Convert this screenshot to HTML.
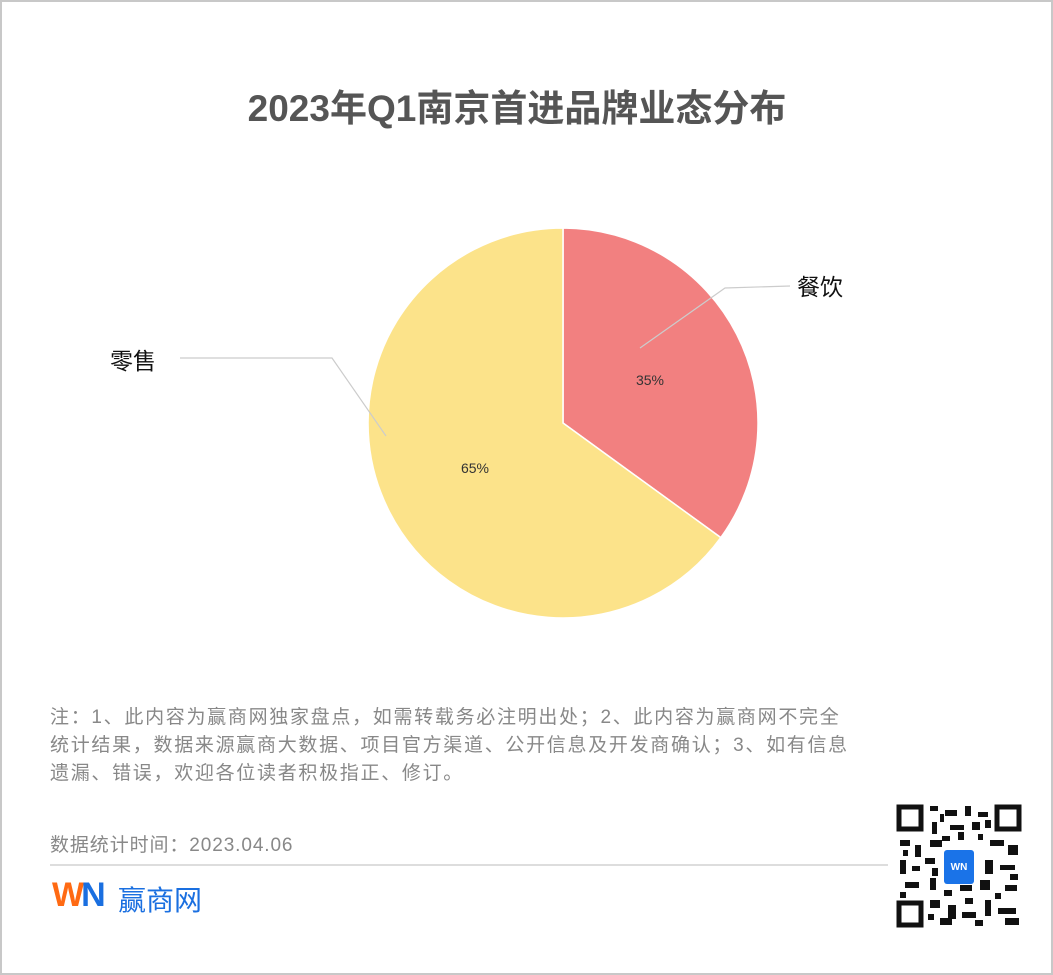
<!DOCTYPE html>
<html><head><meta charset="utf-8"><style>
body{margin:0;width:1053px;height:975px;background:#fff;overflow:hidden;font-family:"Liberation Sans","Noto Sans CJK SC",sans-serif;}
.frame{position:absolute;left:0;top:0;width:1049px;height:971px;border:2px solid #c8c8c8;}
.t{position:absolute;white-space:nowrap;}
</style></head><body>
<div class="frame"></div>
<div class="t" style="left:0;width:1034px;text-align:center;top:78px;font-size:37px;font-weight:bold;color:#555;">2023年Q1南京首进品牌业态分布</div>
<svg style="position:absolute;left:0;top:0" width="1053" height="975">
<path d="M563,423 L563,228 A195,195 0 0 1 720.8,537.6 Z" fill="#f28080" stroke="#fff" stroke-width="1.5"/>
<path d="M563,423 L720.8,537.6 A195,195 0 1 1 563,228 Z" fill="#fce38a" stroke="#fff" stroke-width="1.5"/>
<polyline points="640,348 725,288 790,286" fill="none" stroke="#ccc" stroke-width="1.2"/>
<polyline points="386,436 332,358 180,358" fill="none" stroke="#ccc" stroke-width="1.2"/>
<text x="650" y="385" font-size="14" fill="#333" text-anchor="middle" font-family="Liberation Sans">35%</text>
<text x="475" y="473" font-size="14" fill="#333" text-anchor="middle" font-family="Liberation Sans">65%</text>
<line x1="50" y1="865" x2="888" y2="865" stroke="#ddd" stroke-width="2"/>
<g fill="#111">
<rect x="897" y="805" width="125" height="122" fill="#fff"/>
<rect x="899" y="807" width="22" height="22" fill="none" stroke="#111" stroke-width="5"/>
<rect x="997" y="807" width="22" height="22" fill="none" stroke="#111" stroke-width="5"/>
<rect x="899" y="903" width="22" height="22" fill="none" stroke="#111" stroke-width="5"/>
<g>
<rect x="930" y="806" width="8" height="5"/><rect x="945" y="810" width="12" height="6"/><rect x="965" y="806" width="6" height="10"/><rect x="978" y="812" width="10" height="5"/><rect x="940" y="814" width="4" height="8"/><rect x="985" y="820" width="6" height="8"/>
<rect x="932" y="822" width="5" height="12"/><rect x="950" y="825" width="14" height="5"/><rect x="972" y="822" width="8" height="8"/><rect x="958" y="832" width="6" height="8"/><rect x="942" y="836" width="8" height="5"/><rect x="978" y="834" width="5" height="6"/>
<rect x="900" y="840" width="10" height="6"/><rect x="915" y="845" width="6" height="12"/><rect x="930" y="840" width="12" height="7"/><rect x="990" y="840" width="14" height="6"/><rect x="1008" y="845" width="10" height="10"/><rect x="903" y="850" width="5" height="6"/>
<rect x="900" y="860" width="6" height="14"/><rect x="925" y="858" width="10" height="6"/><rect x="985" y="860" width="8" height="14"/><rect x="1000" y="865" width="15" height="5"/><rect x="912" y="866" width="8" height="5"/><rect x="932" y="868" width="6" height="8"/><rect x="1010" y="874" width="8" height="6"/>
<rect x="905" y="882" width="14" height="6"/><rect x="930" y="878" width="6" height="12"/><rect x="960" y="885" width="12" height="6"/><rect x="980" y="880" width="10" height="10"/><rect x="1005" y="885" width="12" height="6"/><rect x="944" y="890" width="8" height="6"/><rect x="900" y="892" width="6" height="6"/><rect x="995" y="893" width="6" height="6"/>
<rect x="930" y="900" width="10" height="8"/><rect x="948" y="905" width="8" height="14"/><rect x="962" y="912" width="14" height="6"/><rect x="985" y="900" width="6" height="16"/><rect x="998" y="908" width="18" height="6"/><rect x="940" y="918" width="12" height="7"/><rect x="1005" y="918" width="14" height="7"/><rect x="965" y="898" width="8" height="6"/><rect x="928" y="914" width="6" height="6"/><rect x="975" y="920" width="8" height="6"/>
</g>
<rect x="944" y="850" width="30" height="34" rx="3" fill="#1a73e8"/>
</g>
<text x="959" y="870" font-size="10" fill="#fff" text-anchor="middle" font-weight="bold" font-family="Liberation Sans">WN</text>
</svg>
<div class="t" style="left:797px;top:268px;font-size:23px;color:#111;">餐饮</div>
<div class="t" style="left:110px;top:342px;font-size:23px;color:#111;">零售</div>
<div class="t" style="left:50px;top:704px;font-size:19px;line-height:28px;color:#888;letter-spacing:1.7px;">注：1、此内容为赢商网独家盘点，如需转载务必注明出处；2、此内容为赢商网不完全<br>统计结果，数据来源赢商大数据、项目官方渠道、公开信息及开发商确认；3、如有信息<br>遗漏、错误，欢迎各位读者积极指正、修订。</div>
<div class="t" style="left:50px;top:830px;font-size:19px;color:#888;letter-spacing:0.9px;">数据统计时间：2023.04.06</div>
<div class="t" style="left:52px;top:876px;font-size:34px;font-weight:bold;letter-spacing:-3px;"><span style="color:#ff6a13">W</span><span style="color:#1a6fe0">N</span></div>
<div class="t" style="left:118px;top:879px;font-size:28px;color:#1a6fe0;">赢商网</div>
</body></html>
